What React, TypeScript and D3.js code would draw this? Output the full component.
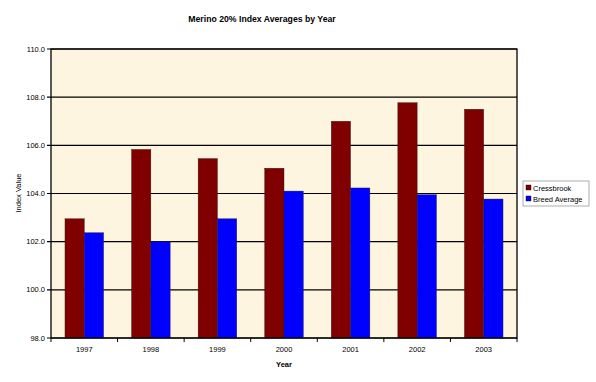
import React from "react";
import * as d3 from "d3";

const years = ["1997", "1998", "1999", "2000", "2001", "2002", "2003"];
const cressbrook = [102.95, 105.83, 105.45, 105.05, 107.0, 107.77, 107.5];
const breedAverage = [102.37, 102.0, 102.95, 104.1, 104.23, 103.95, 103.77];
const seriesNames = ["Cressbrook", "Breed Average"];
const seriesColors = ["#800000", "#0000FF"];
const yTicks = [98, 100, 102, 104, 106, 108, 110];

const W = 596, H = 382;
const plot = { left: 51, right: 517, top: 49, bottom: 338 };
const font = "Liberation Sans, Arial, sans-serif";

export default function App() {
  const x = d3.scaleBand().domain(years).range([plot.left, plot.right]).paddingInner(0).paddingOuter(0);
  const y = d3.scaleLinear().domain([98, 110]).range([plot.bottom, plot.top]);
  const barW = x.bandwidth() * 0.29;
  const series = [cressbrook, breedAverage];
  return (
    <svg width={W} height={H} style={{ position: "absolute", left: 0, top: 0, background: "#fff" }}>
      <text x={262} y={22} textAnchor="middle" fontFamily={font} fontSize={8.7} fontWeight="bold">
        Merino 20% Index Averages by Year
      </text>
      <rect x={plot.left} y={plot.top} width={plot.right - plot.left} height={plot.bottom - plot.top} fill="#FDF5DF" />
      {yTicks.map((t) => (
        <g key={t}>
          <line x1={plot.left - 4} x2={plot.right} y1={y(t)} y2={y(t)} stroke="#000" strokeWidth={1.2} />
          <text x={45} y={y(t) + 2.5} textAnchor="end" fontFamily={font} fontSize={7.5}>
            {t.toFixed(1)}
          </text>
        </g>
      ))}
      {series.map((vals, si) =>
        vals.map((v, i) => {
          const cx = (x(years[i]) as number) + x.bandwidth() / 2;
          const bx = cx - barW + si * barW;
          return (
            <rect key={`${si}-${i}`} x={bx} y={y(v)} width={barW} height={y(98) - y(v)}
              fill={seriesColors[si]} stroke="#222" strokeWidth={0.4} />
          );
        })
      )}
      <rect x={plot.left} y={plot.top} width={plot.right - plot.left} height={plot.bottom - plot.top}
        fill="none" stroke="#000" strokeWidth={1.3} />
      {years.map((yr, i) => (
        <line key={"t" + i} x1={x(yr) as number} x2={x(yr) as number} y1={plot.bottom} y2={plot.bottom + 4} stroke="#000" />
      ))}
      <line x1={plot.right} x2={plot.right} y1={plot.bottom} y2={plot.bottom + 4} stroke="#000" />
      {years.map((yr) => (
        <text key={yr} x={(x(yr) as number) + x.bandwidth() / 2} y={352} textAnchor="middle" fontFamily={font} fontSize={7.5}>
          {yr}
        </text>
      ))}
      <text x={284} y={367} textAnchor="middle" fontFamily={font} fontSize={7.5} fontWeight="bold">Year</text>
      <text transform="translate(21,193) rotate(-90)" textAnchor="middle" fontFamily={font} fontSize={7.5}>Index Value</text>
      <rect x={523} y={181} width={66} height={25} fill="#fff" stroke="#999" strokeWidth={0.8} />
      {seriesNames.map((n, i) => (
        <g key={n}>
          <rect x={526} y={185 + i * 11} width={5} height={5} fill={seriesColors[i]} stroke="#000" strokeWidth={0.4} />
          <text x={533} y={190.5 + i * 11} fontFamily={font} fontSize={7.5}>{n}</text>
        </g>
      ))}
    </svg>
  );
}
